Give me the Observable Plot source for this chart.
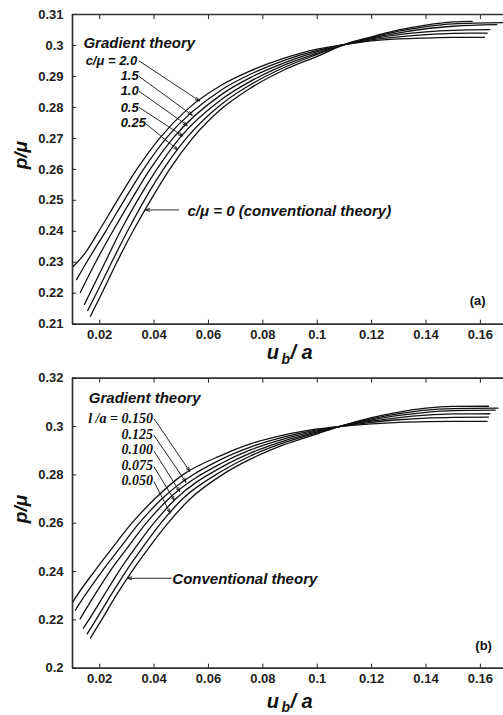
<!DOCTYPE html>
<html><head><meta charset="utf-8">
<script src="https://cdn.jsdelivr.net/npm/d3@7"></script>
<script src="https://cdn.jsdelivr.net/npm/@observablehq/plot@0.6"></script>
<style>
body{margin:0;background:#fff;}
#chart{width:503px;}
#chart svg{display:block;}
</style>
</head><body><div id="chart"></div>
<script>
// ---------- shared axis values ----------
const xDomain = [0.01, 0.1685];
const xTicks = [0.02, 0.04, 0.06, 0.08, 0.10, 0.12, 0.14, 0.16];

// ---------- panel (a) ----------
const yDomainA = [0.21, 0.31];
const yTicksA = [0.21, 0.22, 0.23, 0.24, 0.25, 0.26, 0.27, 0.28, 0.29, 0.30, 0.31];
const seriesA = ["c/μ = 2.0", "c/μ = 1.5", "c/μ = 1.0", "c/μ = 0.5", "c/μ = 0.25", "c/μ = 0"];
const aX1 = [0.0100,0.0145,0.0200,0.0265,0.0335,0.0420,0.0520,0.0650,0.0754,0.0876,0.1000,0.1100,0.1200,0.1300,0.1400,0.1500,0.1615];
const aY1 = [0.2284,0.2328,0.2405,0.2500,0.2598,0.2700,0.2792,0.2873,0.2918,0.2958,0.2988,0.3003,0.3015,0.3021,0.3024,0.3026,0.3026];
const aX2 = [0.0115,0.0152,0.0222,0.0290,0.0361,0.0444,0.0650,0.0754,0.0876,0.1000,0.1100,0.1200,0.1300,0.1400,0.1500,0.1625];
const aY2 = [0.2244,0.2300,0.2400,0.2500,0.2600,0.2700,0.2858,0.2907,0.2951,0.2984,0.3003,0.3018,0.3028,0.3035,0.3039,0.3040];
const aX3 = [0.0129,0.0185,0.0248,0.0315,0.0385,0.0469,0.0650,0.0754,0.0876,0.1000,0.1100,0.1200,0.1300,0.1400,0.1500,0.1635];
const aY3 = [0.2203,0.2300,0.2400,0.2500,0.2600,0.2700,0.2843,0.2896,0.2943,0.2980,0.3003,0.3021,0.3035,0.3044,0.3049,0.3051];
const aX4 = [0.0144,0.0164,0.0220,0.0276,0.0339,0.0410,0.0493,0.0650,0.0754,0.0876,0.1000,0.1100,0.1200,0.1300,0.1400,0.1500,0.1660];
const aY4 = [0.2164,0.2200,0.2300,0.2400,0.2500,0.2600,0.2700,0.2827,0.2884,0.2936,0.2975,0.3003,0.3024,0.3041,0.3054,0.3062,0.3067];
const aX5 = [0.0156,0.0188,0.0244,0.0302,0.0364,0.0434,0.0518,0.0650,0.0754,0.0876,0.1000,0.1100,0.1200,0.1300,0.1400,0.1500,0.1690];
const aY5 = [0.2144,0.2200,0.2300,0.2400,0.2500,0.2600,0.2700,0.2812,0.2873,0.2928,0.2971,0.3003,0.3026,0.3046,0.3061,0.3070,0.3074];
const aX6 = [0.0166,0.0208,0.0263,0.0322,0.0387,0.0457,0.0541,0.0650,0.0754,0.0876,0.1000,0.1100,0.1200,0.1300,0.1400,0.1500,0.1570];
const aY6 = [0.2126,0.2200,0.2300,0.2400,0.2500,0.2600,0.2700,0.2797,0.2862,0.2920,0.2965,0.3003,0.3028,0.3050,0.3066,0.3076,0.3078];

// ---------- panel (b) ----------
const yDomainB = [0.20, 0.32];
const yTicksB = [0.20, 0.22, 0.24, 0.26, 0.28, 0.30, 0.32];
const seriesB = ["l/a = 0.150", "l/a = 0.125", "l/a = 0.100", "l/a = 0.075", "l/a = 0.050", "conventional"];
const bX1 = [0.0098,0.0116,0.0180,0.0248,0.0318,0.0402,0.0505,0.0650,0.0754,0.0876,0.1000,0.1080,0.1200,0.1300,0.1400,0.1500,0.1625];
const bY1 = [0.2268,0.2300,0.2400,0.2500,0.2600,0.2700,0.2800,0.2882,0.2928,0.2964,0.2990,0.3000,0.3011,0.3017,0.3020,0.3021,0.3021];
const bX2 = [0.0111,0.0145,0.0208,0.0276,0.0345,0.0428,0.0650,0.0754,0.0876,0.1000,0.1080,0.1200,0.1300,0.1400,0.1500,0.1630];
const bY2 = [0.2241,0.2300,0.2400,0.2500,0.2600,0.2700,0.2866,0.2915,0.2956,0.2986,0.3000,0.3017,0.3028,0.3035,0.3038,0.3039];
const bX3 = [0.0128,0.0180,0.0237,0.0303,0.0371,0.0453,0.0650,0.0754,0.0876,0.1000,0.1080,0.1200,0.1300,0.1400,0.1500,0.1635];
const bY3 = [0.2204,0.2300,0.2400,0.2500,0.2600,0.2700,0.2849,0.2903,0.2948,0.2982,0.3000,0.3022,0.3037,0.3047,0.3052,0.3053];
const bX4 = [0.0140,0.0160,0.0215,0.0270,0.0332,0.0399,0.0479,0.0650,0.0754,0.0876,0.1000,0.1080,0.1200,0.1300,0.1400,0.1500,0.1655];
const bY4 = [0.2166,0.2200,0.2300,0.2400,0.2500,0.2600,0.2700,0.2833,0.2890,0.2940,0.2978,0.3000,0.3027,0.3046,0.3059,0.3066,0.3068];
const bX5 = [0.0154,0.0186,0.0240,0.0296,0.0358,0.0425,0.0504,0.0650,0.0754,0.0876,0.1000,0.1080,0.1200,0.1300,0.1400,0.1500,0.1665];
const bY5 = [0.2142,0.2200,0.2300,0.2400,0.2500,0.2600,0.2700,0.2816,0.2878,0.2932,0.2974,0.3000,0.3032,0.3053,0.3068,0.3074,0.3076];
const bX6 = [0.0166,0.0207,0.0260,0.0318,0.0382,0.0451,0.0532,0.0650,0.0754,0.0876,0.1000,0.1080,0.1200,0.1300,0.1400,0.1500,0.1630];
const bY6 = [0.2125,0.2200,0.2300,0.2400,0.2500,0.2600,0.2700,0.2800,0.2865,0.2924,0.2970,0.3000,0.3037,0.3060,0.3076,0.3083,0.3084];

// ---------- annotations (data coordinates) ----------
const labelsA = [
  {t: "Gradient theory", x: 0.0140, y: 0.3006, size: 15, anchor: "start"},
  {t: "c/μ = 2.0", x: 0.0338, y: 0.2952, size: 13, anchor: "end"},
  {t: "1.5", x: 0.0277, y: 0.2903, size: 13, anchor: "start"},
  {t: "1.0", x: 0.0277, y: 0.2855, size: 13, anchor: "start"},
  {t: "0.5", x: 0.0277, y: 0.2800, size: 13, anchor: "start"},
  {t: "0.25", x: 0.0277, y: 0.2751, size: 13, anchor: "start"},
  {t: "c/μ = 0 (conventional theory)", x: 0.0523, y: 0.2466, size: 15, anchor: "start"}
];
const arrowsA = [
  {x1: 0.0345, y1: 0.2950, x2: 0.0567, y2: 0.2821},
  {x1: 0.0345, y1: 0.2900, x2: 0.0540, y2: 0.2775},
  {x1: 0.0345, y1: 0.2852, x2: 0.0522, y2: 0.2742},
  {x1: 0.0345, y1: 0.2800, x2: 0.0505, y2: 0.2708},
  {x1: 0.0370, y1: 0.2747, x2: 0.0487, y2: 0.2663},
  {x1: 0.0490, y1: 0.2469, x2: 0.0369, y2: 0.2469}
];
const labelsB = [
  {t: "Gradient theory", x: 0.0160, y: 0.3117, size: 15, anchor: "start"},
  {t: "Conventional theory", x: 0.0467, y: 0.2368, size: 15, anchor: "start"}
];
const serifLabelsB = [
  {t: "l /a = 0.150", x: 0.0396, y: 0.3034},
  {t: "0.125", x: 0.0396, y: 0.2967},
  {t: "0.100", x: 0.0396, y: 0.2904},
  {t: "0.075", x: 0.0396, y: 0.2839},
  {t: "0.050", x: 0.0396, y: 0.2777}
];
const arrowsB = [
  {x1: 0.0400, y1: 0.3032, x2: 0.0531, y2: 0.2815},
  {x1: 0.0400, y1: 0.2963, x2: 0.0517, y2: 0.2770},
  {x1: 0.0400, y1: 0.2898, x2: 0.0494, y2: 0.2731},
  {x1: 0.0400, y1: 0.2833, x2: 0.0475, y2: 0.2694},
  {x1: 0.0400, y1: 0.2771, x2: 0.0459, y2: 0.2642},
  {x1: 0.0463, y1: 0.2372, x2: 0.0303, y2: 0.2372}
];
const tagA = [{t: "(a)", x: 0.1590, y: 0.2174}];
const tagB = [{t: "(b)", x: 0.1612, y: 0.2094}];

// ---------- build tables ----------
function rowsOf(names, xs, ys) {
  const out = [];
  names.forEach((s, i) => xs[i].forEach((x, j) => out.push({s, x, y: ys[i][j]})));
  return out;
}
const rowsA = rowsOf(seriesA, [aX1,aX2,aX3,aX4,aX5,aX6], [aY1,aY2,aY3,aY4,aY5,aY6]);
const rowsB = rowsOf(seriesB, [bX1,bX2,bX3,bX4,bX5,bX6], [bY1,bY2,bY3,bY4,bY5,bY6]);

const SANS = "'Liberation Sans', Arial, Helvetica, sans-serif";
const SERIF = "'Liberation Serif', 'Times New Roman', serif";
const fmt = d => String(+(+d).toFixed(2));

function panel(cfg) {
  const bi = {fontFamily: SANS, fontWeight: "bold", fontStyle: "italic", fill: "#111"};
  return Plot.plot({
    width: 503, height: cfg.height,
    marginTop: cfg.mt, marginBottom: cfg.mb, marginLeft: 72, marginRight: 0,
    style: {fontFamily: SANS, color: "#222", background: "white", overflow: "visible"},
    x: {domain: xDomain},
    y: {domain: cfg.yDomain},
    marks: [
      Plot.line(cfg.rows, {x: "x", y: "y", z: "s", curve: "monotone-x", stroke: "#111", strokeWidth: 1.3, clip: true}),
      Plot.ruleX([xDomain[0]], {stroke: "#333", strokeWidth: 1.7}),
      Plot.ruleY(cfg.yDomain, {stroke: "#333", strokeWidth: 1.7}),
      Plot.axisX(xTicks, {anchor: "bottom", tickSize: -4, tickPadding: 10, tickFormat: fmt, fontSize: 13, fontWeight: "bold", label: null}),
      Plot.axisX(xTicks, {anchor: "top", tickSize: -4, tickFormat: () => "", label: null}),
      Plot.axisY(cfg.yTicks, {anchor: "left", tickSize: -4, tickPadding: 13, tickFormat: fmt, fontSize: 13, fontWeight: "bold", label: null}),
      Plot.arrow(cfg.arrows, {x1: "x1", y1: "y1", x2: "x2", y2: "y2", stroke: "#111", strokeWidth: 0.9, headLength: 7, headAngle: 40}),
      Plot.text(cfg.labels, {x: "x", y: "y", text: "t", fontSize: d => d.size, textAnchor: "start", ...bi,
        filter: d => d.anchor === "start"}),
      Plot.text(cfg.labels, {x: "x", y: "y", text: "t", textAnchor: "end", fontSize: 13, ...bi,
        filter: d => d.anchor === "end"}),
      Plot.text(cfg.serif, {x: "x", y: "y", text: "t", textAnchor: "end", fontSize: 14,
        fontFamily: SERIF, fontWeight: "bold", fontStyle: "italic", fill: "#111"}),
      Plot.text(cfg.tag, {x: "x", y: "y", text: "t", fontSize: 13, fontWeight: "bold", fill: "#111"}),
      // axis titles
      Plot.text(["p/μ"], {frameAnchor: "left", dx: -52, rotate: -90, fontSize: 19, ...bi}),
      Plot.text(["u"], {frameAnchor: "bottom", dx: -9, dy: cfg.xdy, textAnchor: "end", lineAnchor: "bottom", fontSize: 20, ...bi}),
      Plot.text(["b"], {frameAnchor: "bottom", dx: -6.5, dy: cfg.xdy + cfg.bdy, textAnchor: "start", lineAnchor: "bottom", fontSize: 14, ...bi}),
      Plot.text(["/ a"], {frameAnchor: "bottom", dx: 2.5, dy: cfg.xdy, textAnchor: "start", lineAnchor: "bottom", fontSize: 20, ...bi})
    ]
  });
}

const chart = document.getElementById("chart");
chart.append(panel({height: 365, mt: 14, mb: 41.3, yDomain: yDomainA, yTicks: yTicksA, rows: rowsA,
  arrows: arrowsA, labels: labelsA, serif: [], tag: tagA, xdy: 34.5, bdy: 5.5}));
chart.append(panel({height: 350, mt: 12.7, mb: 47.3, yDomain: yDomainB, yTicks: yTicksB, rows: rowsB,
  arrows: arrowsB, labels: labelsB, serif: serifLabelsB, tag: tagB, xdy: 39.5, bdy: 4}));
</script>
</body></html>
